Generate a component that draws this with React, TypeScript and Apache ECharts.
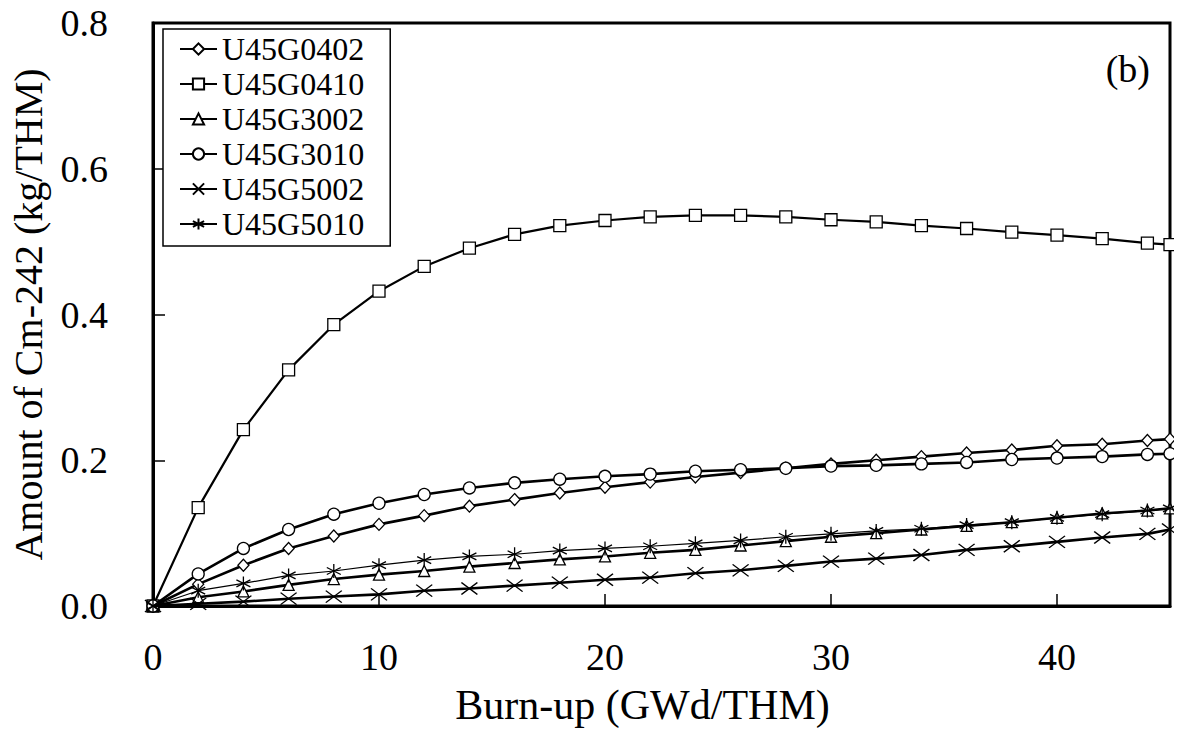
import React, { useEffect, useRef } from "react";
import * as echarts from "echarts";

const burnup = [0, 2, 4, 6, 8, 10, 12, 14, 16, 18, 20, 22, 24, 26, 28, 30, 32, 34, 36, 38, 40, 42, 44, 45];

const seriesNames = ["U45G0402", "U45G0410", "U45G3002", "U45G3010", "U45G5002", "U45G5010"];

const u45g0402 = [0, 0.030, 0.056, 0.079, 0.096, 0.112, 0.124, 0.137, 0.146, 0.155, 0.163, 0.170, 0.177, 0.183, 0.189, 0.195, 0.200, 0.205, 0.210, 0.214, 0.220, 0.222, 0.227, 0.229];
const u45g0410 = [0, 0.135, 0.242, 0.324, 0.386, 0.432, 0.466, 0.491, 0.510, 0.522, 0.529, 0.534, 0.536, 0.536, 0.534, 0.530, 0.527, 0.522, 0.518, 0.513, 0.509, 0.504, 0.498, 0.496];
const u45g3002 = [0, 0.012, 0.020, 0.029, 0.037, 0.043, 0.048, 0.054, 0.059, 0.064, 0.068, 0.073, 0.077, 0.083, 0.089, 0.095, 0.100, 0.105, 0.110, 0.115, 0.121, 0.127, 0.131, 0.134];
const u45g3010 = [0, 0.044, 0.079, 0.105, 0.126, 0.141, 0.153, 0.162, 0.169, 0.174, 0.178, 0.181, 0.185, 0.187, 0.189, 0.192, 0.193, 0.195, 0.197, 0.201, 0.203, 0.205, 0.208, 0.209];
const u45g5002 = [0, 0.003, 0.006, 0.010, 0.013, 0.016, 0.021, 0.024, 0.028, 0.032, 0.036, 0.039, 0.045, 0.049, 0.055, 0.061, 0.065, 0.070, 0.077, 0.082, 0.088, 0.094, 0.099, 0.105];
const u45g5010 = [0, 0.021, 0.031, 0.042, 0.048, 0.056, 0.063, 0.068, 0.071, 0.076, 0.079, 0.082, 0.086, 0.090, 0.095, 0.099, 0.103, 0.106, 0.111, 0.115, 0.121, 0.126, 0.131, 0.134];

const allValues = [u45g0402, u45g0410, u45g3002, u45g3010, u45g5002, u45g5010];

const FONT = "'Liberation Serif', 'DejaVu Serif', serif";

const styles = [
  { symbol: "diamond", size: [11, 12], lineWidth: 2.6 },
  { symbol: "rect", size: 12, lineWidth: 2.2 },
  { symbol: "triangle", size: [11, 11], lineWidth: 2.6 },
  { symbol: "circle", size: 12, lineWidth: 2.6 },
  { symbol: "path://M0,0L16,12M16,0L0,12", size: [16, 12], lineWidth: 2.6 },
  { symbol: "path://M7,0L7,14M0,3.5L14,10.5M0,10.5L14,3.5", size: [14, 14], lineWidth: 1.2 },
];

export default function App() {
  const ref = useRef<HTMLDivElement>(null);
  useEffect(() => {
    if (!ref.current) return;
    const chart = echarts.init(ref.current, undefined, { renderer: "svg" });
    const series = seriesNames.map((name, i) => ({
      name,
      type: "line",
      data: burnup.map((x, j) => [x, allValues[i][j]]),
      symbol: styles[i].symbol,
      symbolSize: styles[i].size,
      showAllSymbol: true,
      lineStyle: { color: "#000", width: styles[i].lineWidth },
      itemStyle: { color: "#fff", borderColor: "#000", borderWidth: 1.3 },
      emphasis: { disabled: true },
      silent: true,
      z: 2 + i,
    }));
    chart.setOption({
      animation: false,
      backgroundColor: "#fff",
      textStyle: { fontFamily: FONT, color: "#000" },
      grid: {
        left: 152,
        top: 23,
        right: 12,
        bottom: 136,
        show: true,
        borderColor: "#000",
        borderWidth: 3,
        backgroundColor: "transparent",
      },
      legend: {
        orient: "vertical",
        left: 163,
        top: 29,
        data: seriesNames,
        backgroundColor: "#fff",
        borderColor: "#000",
        borderWidth: 1.5,
        padding: [4, 26, 6, 16],
        itemGap: 3,
        itemWidth: 37,
        itemHeight: 14,
        textStyle: { fontFamily: FONT, fontSize: 32, color: "#000" },
        selectedMode: false,
        z: 20,
      },
      xAxis: {
        type: "value",
        min: 0,
        max: 45,
        interval: 10,
        name: "Burn-up (GWd/THM)",
        nameLocation: "middle",
        nameGap: 78,
        nameTextStyle: { fontFamily: FONT, fontSize: 42, color: "#000", padding: [0, 38, 0, 0] },
        axisLine: { show: true, lineStyle: { color: "#000", width: 3 } },
        axisTick: { show: true, inside: true, length: 12, lineStyle: { color: "#000", width: 1.5 } },
        axisLabel: { fontFamily: FONT, fontSize: 38, color: "#000", margin: 32, showMaxLabel: false },
        splitLine: { show: false },
      },
      yAxis: {
        type: "value",
        min: 0,
        max: 0.8,
        interval: 0.2,
        name: "Amount of Cm-242 (kg/THM)",
        nameLocation: "middle",
        nameGap: 105,
        nameRotate: 90,
        nameTextStyle: { fontFamily: FONT, fontSize: 40, color: "#000" },
        axisLine: { show: true, lineStyle: { color: "#000", width: 3 } },
        axisTick: { show: true, inside: true, length: 12, lineStyle: { color: "#000", width: 1.5 } },
        axisLabel: {
          fontFamily: FONT,
          fontSize: 38,
          color: "#000",
          margin: 45,
          formatter: (v: number) => v.toFixed(1),
        },
        splitLine: { show: false },
      },
      graphic: [
        {
          type: "text",
          right: 32,
          top: 50,
          style: { text: "(b)", font: `38px ${FONT}`, fill: "#000" },
          z: 30,
        },
      ],
      series,
    });
    return () => chart.dispose();
  }, []);
  return <div ref={ref} style={{ width: 1182, height: 742, margin: -8 }} />;
}
